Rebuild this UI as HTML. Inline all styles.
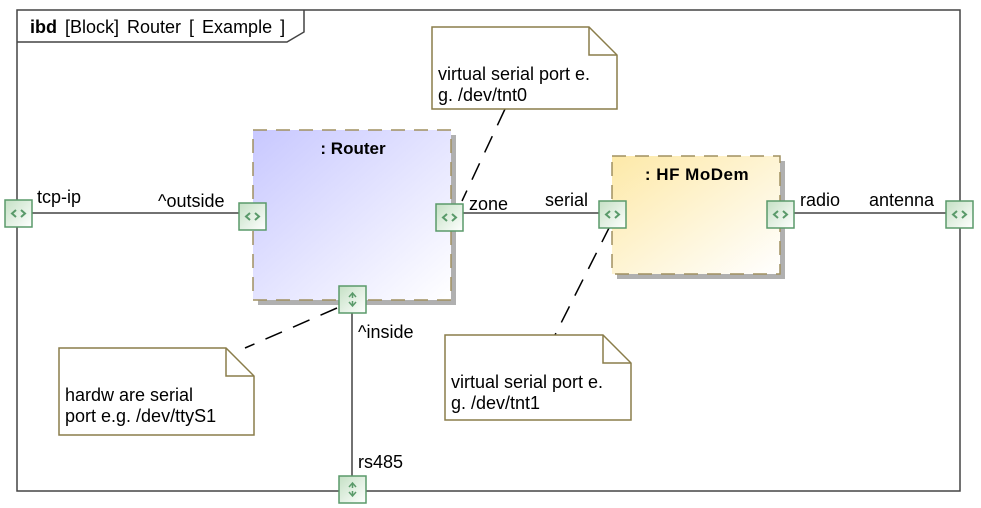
<!DOCTYPE html>
<html><head><meta charset="utf-8"><style>
body{margin:0;background:#fff}
svg{display:block}
text{font-family:"Liberation Sans",sans-serif;font-size:18px;fill:#000}
</style></head><body>
<svg width="981" height="508" viewBox="0 0 981 508" xmlns="http://www.w3.org/2000/svg">
<defs>
<linearGradient id="gr" x1="0" y1="0" x2="1" y2="1"><stop offset="0" stop-color="#c8c8ff"/><stop offset="1" stop-color="#ffffff"/></linearGradient>
<linearGradient id="gy" x1="0" y1="0" x2="1" y2="1"><stop offset="0" stop-color="#fde9a8"/><stop offset="1" stop-color="#ffffff"/></linearGradient>
<linearGradient id="gp" x1="0" y1="0" x2="1" y2="1"><stop offset="0" stop-color="#c4e0c4"/><stop offset="1" stop-color="#ffffff"/></linearGradient>
<g id="ph"><rect x="0" y="0" width="27" height="27" fill="url(#gp)" stroke="#5a9a6a" stroke-width="1.5"/><path d="M11 10 L7 13.5 L11 17 M16 10 L20 13.5 L16 17" stroke="#5a9a6a" stroke-width="2" fill="none"/></g>
<g id="pv"><rect x="0" y="0" width="27" height="27" fill="url(#gp)" stroke="#5a9a6a" stroke-width="1.5"/><path d="M10 11 L13.5 7 L17 11 M13.5 7 V12 M10 16 L13.5 20 L17 16 M13.5 20 V15" stroke="#5a9a6a" stroke-width="1.5" fill="none"/></g>
</defs>
<rect x="17" y="10" width="943" height="481" fill="none" stroke="#444" stroke-width="1.5"/>
<path d="M17 42 H287 L304 32 V10" fill="none" stroke="#444" stroke-width="1.5"/>
<text x="30" y="33" style="word-spacing:3px"><tspan font-weight="bold">ibd</tspan>  [Block]  Router [  Example  ]</text>
<g stroke="#444" stroke-width="1.5">
<line x1="31" y1="213" x2="239" y2="213"/>
<line x1="463" y1="213" x2="599" y2="213"/>
<line x1="794" y1="213" x2="946" y2="213"/>
<line x1="352" y1="313" x2="352" y2="477"/>
</g>
<g stroke="#000" stroke-width="1.5" stroke-dasharray="18,12" fill="none">
<line x1="505" y1="109" x2="462" y2="201"/>
<line x1="610" y1="226" x2="555" y2="335"/>
<line x1="337" y1="308" x2="245" y2="348"/>
</g>
<rect x="258" y="135" width="198" height="170" fill="#b0b0b0"/>
<rect x="253" y="130" width="198" height="170" fill="url(#gr)" stroke="#a09060" stroke-width="1.5" stroke-dasharray="14,9"/>
<text x="353" y="154" text-anchor="middle" style="font-size:17px;font-weight:bold">: Router</text>
<rect x="617" y="161" width="168" height="118" fill="#b0b0b0"/>
<rect x="612" y="156" width="168" height="118" fill="url(#gy)" stroke="#a09060" stroke-width="1.5" stroke-dasharray="14,9"/>
<text x="697" y="180" text-anchor="middle" style="font-size:17px;font-weight:bold;letter-spacing:0.5px">: HF MoDem</text>
<g fill="#fff" stroke="#8a7d4a" stroke-width="1.5">
<path d="M432 27 H589 L617 55 V109 H432 Z"/><path d="M589 27 V55 H617" fill="none"/>
<path d="M445 335 H603 L631 363 V420 H445 Z"/><path d="M603 335 V363 H631" fill="none"/>
<path d="M59 348 H226 L254 376 V435 H59 Z"/><path d="M226 348 V376 H254" fill="none"/>
</g>
<text x="438" y="80">virtual serial port e.</text><text x="438" y="101">g. /dev/tnt0</text>
<text x="451" y="388">virtual serial port e.</text><text x="451" y="409">g. /dev/tnt1</text>
<text x="65" y="401">hardw are serial</text><text x="65" y="422">port e.g. /dev/ttyS1</text>
<use href="#ph" x="5" y="200"/>
<use href="#ph" x="239" y="203"/>
<use href="#ph" x="436" y="204"/>
<use href="#ph" x="599" y="201"/>
<use href="#ph" x="767" y="201"/>
<use href="#ph" x="946" y="201"/>
<use href="#pv" x="339" y="286"/>
<use href="#pv" x="339" y="476"/>
<text x="37" y="203">tcp-ip</text>
<text x="158" y="207">^outside</text>
<text x="469" y="210">zone</text>
<text x="545" y="206">serial</text>
<text x="800" y="206">radio</text>
<text x="869" y="206">antenna</text>
<text x="358" y="338">^inside</text>
<text x="358" y="468">rs485</text>
</svg>
</body></html>
